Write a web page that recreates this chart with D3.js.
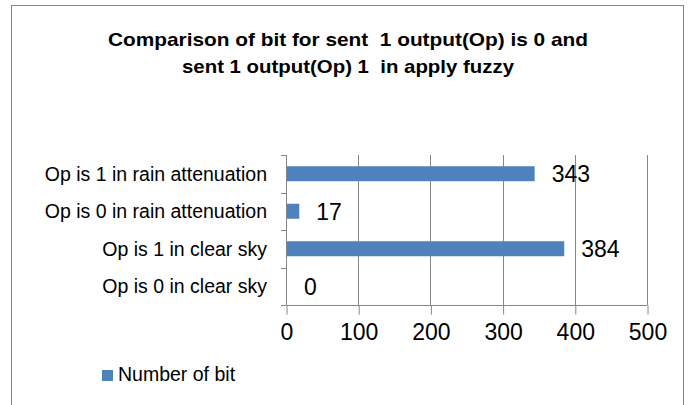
<!DOCTYPE html>
<html>
<head>
<meta charset="utf-8">
<script src="https://cdn.jsdelivr.net/npm/d3@7"></script>
<style>
  body { margin: 0; background: #fff; }
  svg { display: block; font-family: "Liberation Sans", Arial, sans-serif; }
  text { white-space: pre; }
</style>
</head>
<body>
<div class="chart"></div>
<script>
// chart values
const categories = [
  'Op is 1 in rain attenuation',
  'Op is 0 in rain attenuation',
  'Op is 1 in clear sky',
  'Op is 0 in clear sky'
];
const values = [343, 17, 384, 0];
const xTicks = [0, 100, 200, 300, 400, 500];
const seriesName = 'Number of bit';
const titleLines = [
  'Comparison of bit for sent  1 output(Op) is 0 and',
  'sent 1 output(Op) 1  in apply fuzzy'
];

const width = 689;
const height = 405;
const margin = {top: 155, left: 286, right: 42, bottom: 100};
const barColor = '#4F81BD';
const gridColor = '#868686';

const svg = d3.select('.chart').append('svg')
  .attr('width', width).attr('height', height);

// outer chart frame
svg.append('rect')
  .attr('x', 11.5).attr('y', 5.5)
  .attr('width', 672).attr('height', 420)
  .attr('fill', 'none').attr('stroke', gridColor).attr('stroke-width', 1);

const titleWidths = [480, 332];
svg.selectAll('.title').data(titleLines)
  .enter().append('text')
  .attr('class', 'title')
  .attr('x', 348)
  .attr('y', (d, i) => 46 + i * 27)
  .attr('text-anchor', 'middle')
  .attr('font-weight', 'bold')
  .attr('font-size', 19)
  .attr('textLength', (d, i) => titleWidths[i])
  .attr('lengthAdjust', 'spacingAndGlyphs')
  .attr('fill', '#000')
  .text(d => d);

const x = d3.scaleLinear().domain([0, 500])
  .range([margin.left, width - margin.right]);
const y = d3.scaleBand().domain(categories)
  .range([margin.top, height - margin.bottom])
  .paddingInner(0.6).paddingOuter(0.3);

// vertical gridlines
svg.append('g').selectAll('line').data(xTicks)
  .enter().append('line')
  .attr('x1', d => Math.round(x(d)) + 0.5)
  .attr('x2', d => Math.round(x(d)) + 0.5)
  .attr('y1', margin.top)
  .attr('y2', height - margin.bottom)
  .attr('stroke', gridColor);

// bottom axis
const xAxis = svg.append('g')
  .attr('transform', `translate(0.5, ${height - margin.bottom + 0.5})`)
  .call(d3.axisBottom(x).tickValues(xTicks).tickSize(9).tickPadding(9)
    .tickFormat(d3.format('d')));
xAxis.selectAll('line, path').attr('stroke', gridColor);
xAxis.select('.domain').attr('d', `M${x(0)},0H${x(500)}`);
xAxis.selectAll('text').attr('font-size', 23).attr('fill', '#000')
  .attr('font-family', '"Liberation Sans", Arial, sans-serif');

// left axis with ticks between categories
const bandEdges = d3.range(categories.length + 1)
  .map(i => margin.top + i * (height - margin.bottom - margin.top) / categories.length);
const yAxis = svg.append('g');
yAxis.append('line')
  .attr('x1', margin.left + 0.5).attr('x2', margin.left + 0.5)
  .attr('y1', margin.top).attr('y2', height - margin.bottom)
  .attr('stroke', gridColor);
yAxis.selectAll('.ytick').data(bandEdges)
  .enter().append('line')
  .attr('class', 'ytick')
  .attr('x1', margin.left - 5).attr('x2', margin.left)
  .attr('y1', d => Math.round(d) + 0.5).attr('y2', d => Math.round(d) + 0.5)
  .attr('stroke', gridColor);
yAxis.selectAll('.ylabel').data(categories)
  .enter().append('text')
  .attr('class', 'ylabel')
  .attr('x', 267)
  .attr('y', d => y(d) + y.bandwidth() / 2)
  .attr('dy', '0.36em')
  .attr('text-anchor', 'end')
  .attr('font-size', 19.5)
  .attr('fill', '#000')
  .text(d => d);

// bars
const rows = categories.map((c, i) => ({category: c, value: values[i]}));
svg.selectAll('.bar').data(rows)
  .enter().append('rect')
  .attr('class', 'bar')
  .attr('x', x(0) + 1)
  .attr('y', d => y(d.category))
  .attr('width', d => Math.max(0, x(d.value) - x(0)))
  .attr('height', y.bandwidth())
  .attr('fill', barColor);

// value labels
svg.selectAll('.value').data(rows)
  .enter().append('text')
  .attr('class', 'value')
  .attr('x', d => x(d.value) + 18)
  .attr('y', d => y(d.category) + y.bandwidth() / 2)
  .attr('dy', '0.38em')
  .attr('font-size', 23)
  .attr('fill', '#000')
  .text(d => d.value);

// legend
const legend = svg.append('g').attr('transform', 'translate(102, 370)');
legend.append('rect')
  .attr('width', 11).attr('height', 11)
  .attr('fill', barColor);
legend.append('text')
  .attr('x', 16).attr('y', 11)
  .attr('font-size', 19.5)
  .attr('fill', '#000')
  .text(seriesName);
</script>
</body>
</html>
